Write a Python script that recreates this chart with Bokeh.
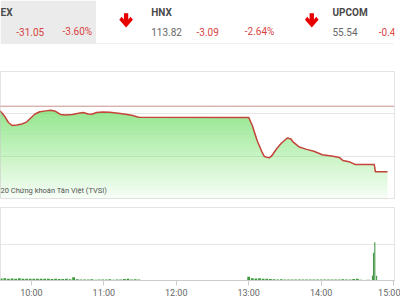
from bokeh.plotting import figure
from bokeh.layouts import column
from bokeh.models import Range1d, Label, FixedTicker, Span
from bokeh.core.properties import value
from bokeh.embed import file_html
from bokeh.resources import INLINE
import numpy as np

FONT = "Roboto"

# ---------------- data ----------------
# header (index tabs) - only the parts visible in the cropped widget
tab_names = ["EX", "HNX", "UPCOM"]
tab_values = ["113.82", "55.54"]            # HNX, UPCOM
tab_changes = ["-31.05", "-3.09", "-0.4"]
tab_pcts = ["-3.60%", "-2.64%"]

# intraday index line (time, points)
price_time = ["09:34", "09:38", "09:41", "09:44", "09:48", "09:52", "09:56", "09:59",
              "10:03", "10:07", "10:12", "10:16", "10:20", "10:24", "10:28", "10:34",
              "10:39", "10:43", "10:47", "10:50", "10:54", "10:59", "11:05", "11:12",
              "11:18", "11:24", "11:28", "11:30",
              "13:00", "13:03", "13:07", "13:11", "13:13", "13:17", "13:19", "13:23",
              "13:27", "13:32", "13:35", "13:37", "13:42", "13:48", "13:54", "14:01",
              "14:10", "14:15", "14:18", "14:24", "14:28", "14:44", "14:45", "14:55"]
price_value = [861.5, 858.7, 855.9, 854.5, 854.7, 855.2, 856.1, 857.8,
               859.9, 861.0, 861.4, 861.7, 861.2, 859.7, 859.4, 859.7,
               860.3, 860.6, 859.9, 859.8, 860.6, 860.9, 860.7, 860.3,
               859.8, 859.2, 858.5, 858.4,
               858.3, 854.5, 847.4, 842.0, 839.8, 839.2, 840.1, 843.4,
               846.1, 848.6, 848.1, 846.6, 844.3, 843.2, 842.3, 840.7,
               840.0, 839.4, 838.0, 837.2, 836.1, 836.1, 832.6, 832.6]
ref_close = 863.6
credit = "20 Chứng khoán Tân Việt (TVSI)"

# volume (3-minute bins)
vol_am_start = "09:35"
vol_am = [0.55, 0.6, 0.5, 0.55, 0.5, 0.6, 0.45, 0.5, 0.5, 0.45,
          0.5, 0.45, 0.5, 0.45, 0.4, 0.45, 0.4, 0.4, 0.45, 0.35,
          0.9, 0.35, 0.3, 0.25, 0.3, 0.35, 0.2, 0.3, 0.25, 0.3,
          0.35, 0.2, 0.3, 0.3, 0.4, 0.45, 0.3, 0.35, 0.3]
vol_pm_start = "13:00"
vol_pm = [1.0, 0.6, 0.55, 0.6, 0.5, 0.45, 0.4, 0.35, 0.3, 0.35,
          0.25, 0.3, 0.3, 0.25, 0.3, 0.25, 0.3, 0.3, 0.25, 0.3,
          0.25, 0.3, 0.3, 0.25, 0.3, 0.3, 0.35, 0.3, 0.3, 0.4,
          0.45, 0.2, 0.15, 0.2]
atc_time = ["14:42:30", "14:43:30", "14:44:30", "14:46:00"]
atc_vol = [1.4, 7.6, 10.5, 1.3]

tick_labels = ["10:00", "11:00", "12:00", "13:00", "14:00", "15:00"]


def mins(s):
    parts = [float(v) for v in s.split(":")]
    out = parts[0] * 60 + parts[1]
    if len(parts) > 2:
        out += parts[2] / 60.0
    return out


GREEN = "#64e15a"
LINE = "#c4453a"
RED_TXT = "#d9443f"

xr = Range1d(574.4, 900.8)

# ---------------- header ----------------
hp = figure(width=400, height=44, x_range=Range1d(0, 400), y_range=Range1d(44, 0),
            x_axis_location=None, y_axis_location=None, toolbar_location=None,
            output_backend="svg", min_border=0)
hp.grid.visible = False
hp.outline_line_color = None
hp.quad(left=[0], right=[97], top=[0], bottom=[43], fill_color="#ebebeb", line_color=None)
hp.segment(x0=[0], y0=[43.5], x1=[400], y1=[43.5], line_color="#e3e3e3", line_width=1)

# arrows (bold down arrows)
arrow_dx = [-2.2, 2.2, 2.2, 4.6, 6.9, 0.0, -6.9, -4.6, -2.2]
arrow_dy = [12.8, 12.8, 19.0, 16.3, 19.3, 27.0, 19.3, 16.3, 19.0]
arrow_cx = [127.5, 316.0]
hp.patches(xs=[[c + d for d in arrow_dx] for c in arrow_cx], ys=[arrow_dy, arrow_dy],
           fill_color="#e60000", line_color=None)

name_x = [0, 153, 337]
hp.text(x=name_x, y=[11.5] * 3, text=tab_names, text_align="left",
        text_baseline="middle", text_font=value(FONT), text_font_size="10px",
        text_font_style="bold", text_color="#4a4a4a")
hp.text(x=[153, 337], y=[31, 31], text=tab_values, text_align="left", text_baseline="middle",
        text_font=value(FONT), text_font_size="10px", text_color="#666666")
hp.text(x=[16, 199, 384], y=[31] * 3, text=tab_changes, text_align="left", text_baseline="middle",
        text_font=value(FONT), text_font_size="10px", text_color=RED_TXT)
hp.text(x=[63, 248], y=[31] * 2, text=tab_pcts, text_align="left", text_baseline="middle",
        text_font=value(FONT), text_font_size="10px", text_color=RED_TXT)

# ---------------- price pane ----------------
pp = figure(width=400, height=155, x_range=xr, y_range=Range1d(820, 880),
            x_axis_location=None, y_axis_location=None, toolbar_location=None,
            output_backend="svg", min_border=0, min_border_top=27, min_border_right=5,
            min_border_bottom=1)
pp.outline_line_color = "#e3e3e3"
pp.xgrid.visible = False
pp.ygrid.ticker = FixedTicker(ticks=[840, 860])
pp.ygrid.grid_line_color = "#e6e6e6"

px = np.array([mins(t) for t in price_time])
py = np.array(price_value)

# stacked translucent layers -> vertical gradient under the line
thr = np.arange(820, 880, 2.0)
target = 0.04 + 0.85 * (thr + 2 - 820) / 60.0
prev = 0.0
for t, o in zip(thr, target):
    a = 1 - (1 - o) / (1 - prev)
    prev = o
    pp.varea(x=px, y1=np.minimum(t, py), y2=py, fill_color=GREEN, fill_alpha=float(a))

pp.line(px, py, line_color=LINE, line_width=1.5)
pp.add_layout(Span(location=ref_close, dimension="width", line_color="#8e2219",
                   line_dash="1 1", line_width=1))
pp.add_layout(Label(x=574.4, y=823.8, x_offset=0, text=credit,
                    text_font=FONT, text_font_size="7.5px", text_color="#555555",
                    text_baseline="middle"))

# ---------------- volume pane ----------------
vp = figure(width=400, height=101, x_range=xr, y_range=Range1d(0, 20),
            y_axis_location=None, toolbar_location=None, output_backend="svg",
            min_border=0, min_border_top=8, min_border_right=6, min_border_bottom=19)
vp.outline_line_color = "#e3e3e3"
vp.xgrid.visible = False
vp.ygrid.ticker = FixedTicker(ticks=[10, 20])
vp.ygrid.grid_line_color = "#e6e6e6"

am_x = [mins(vol_am_start) + 3 * i for i in range(len(vol_am))]
pm_x = [mins(vol_pm_start) + 3 * i for i in range(len(vol_pm))]
vp.vbar(x=am_x + pm_x, top=vol_am + vol_pm, width=2.3, bottom=0,
        fill_color="#3c9a3c", line_color=None)
vp.vbar(x=[mins(t) for t in atc_time], top=atc_vol, width=0.8, bottom=0,
        fill_color="#2e8b2e", line_color=None)

tick_pos = [int(mins(t)) for t in tick_labels]
vp.xaxis.ticker = FixedTicker(ticks=tick_pos)
vp.xaxis.major_label_overrides = {p: l for p, l in zip(tick_pos, tick_labels)}
vp.xaxis.axis_line_color = "#cccccc"
vp.xaxis.major_tick_line_color = "#cccccc"
vp.xaxis.major_tick_in = 0
vp.xaxis.major_tick_out = 5
vp.xaxis.minor_tick_line_color = None
vp.xaxis.major_label_standoff = 2
vp.xaxis.major_label_text_font = FONT
vp.xaxis.major_label_text_font_size = "9px"
vp.xaxis.major_label_text_color = "#666666"

layout = column(hp, pp, vp, spacing=0)
open("out.html", "w").write(file_html(layout, INLINE))
